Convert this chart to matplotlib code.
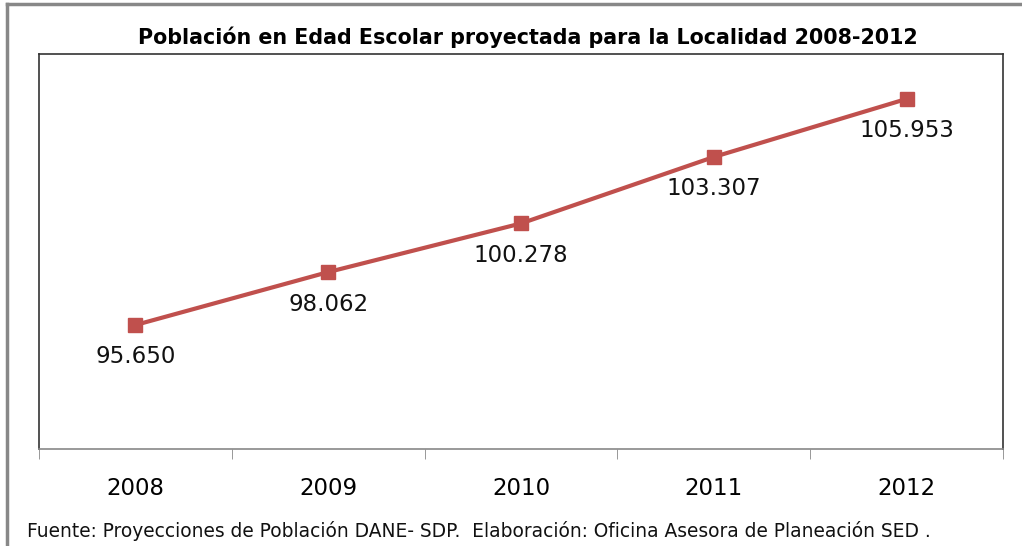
import matplotlib
matplotlib.use("Agg")
import matplotlib.pyplot as plt
from matplotlib.lines import Line2D
from matplotlib.ticker import FixedLocator

# datos
anios = ["2008", "2009", "2010", "2011", "2012"]
poblacion = [95650, 98062, 100278, 103307, 105953]

TITULO = "Población en Edad Escolar proyectada para la Localidad 2008-2012"
FUENTE = "Fuente: Proyecciones de Población DANE- SDP.  Elaboración: Oficina Asesora de Planeación SED ."
ROJO = "#C0504D"


def etiqueta(v):
    return f"{v:,}".replace(",", ".")


fig = plt.figure(figsize=(10.22, 5.46), dpi=100)
ax = fig.add_axes([0.0382, 0.1777, 0.9432, 0.7234])

x = list(range(len(anios)))
ax.plot(x, poblacion, color=ROJO, lw=3, marker="s", markersize=10, zorder=3)

for xi, v in zip(x, poblacion):
    ax.annotate(etiqueta(v), (xi, v), xytext=(0, -23), textcoords="offset points",
                ha="center", va="center", fontsize=16.5, color="#111111")

ax.set_xlim(-0.5, len(anios) - 0.5)
ax.set_ylim(90000, 108000)
ax.set_yticks([])

ax.set_xticks(x)
ax.set_xticklabels(anios, fontsize=16.5)
ax.tick_params(axis="x", which="major", length=0, pad=20)
ax.xaxis.set_minor_locator(FixedLocator([i - 0.5 for i in range(len(anios) + 1)]))
ax.tick_params(axis="x", which="minor", length=7, color="#888888", direction="out")

for lado in ["left", "top", "right"]:
    ax.spines[lado].set_color("#333333")
    ax.spines[lado].set_linewidth(1.2)
ax.spines["bottom"].set_color("#888888")
ax.spines["bottom"].set_linewidth(1.2)

fig.text(0.516, 0.932, TITULO, ha="center", va="center", fontsize=14.9, fontweight="bold")
fig.text(0.026, 0.028, FUENTE, ha="left", va="center", fontsize=13.4, color="#111111")

# marco exterior recortado (solo arriba e izquierda)
fig.add_artist(Line2D([0.007, 1.0], [0.993, 0.993], transform=fig.transFigure,
                      color="#888888", lw=2.5))
fig.add_artist(Line2D([0.007, 0.007], [0.0, 0.993], transform=fig.transFigure,
                      color="#888888", lw=2.5))

fig.savefig("out.png", dpi=100)
